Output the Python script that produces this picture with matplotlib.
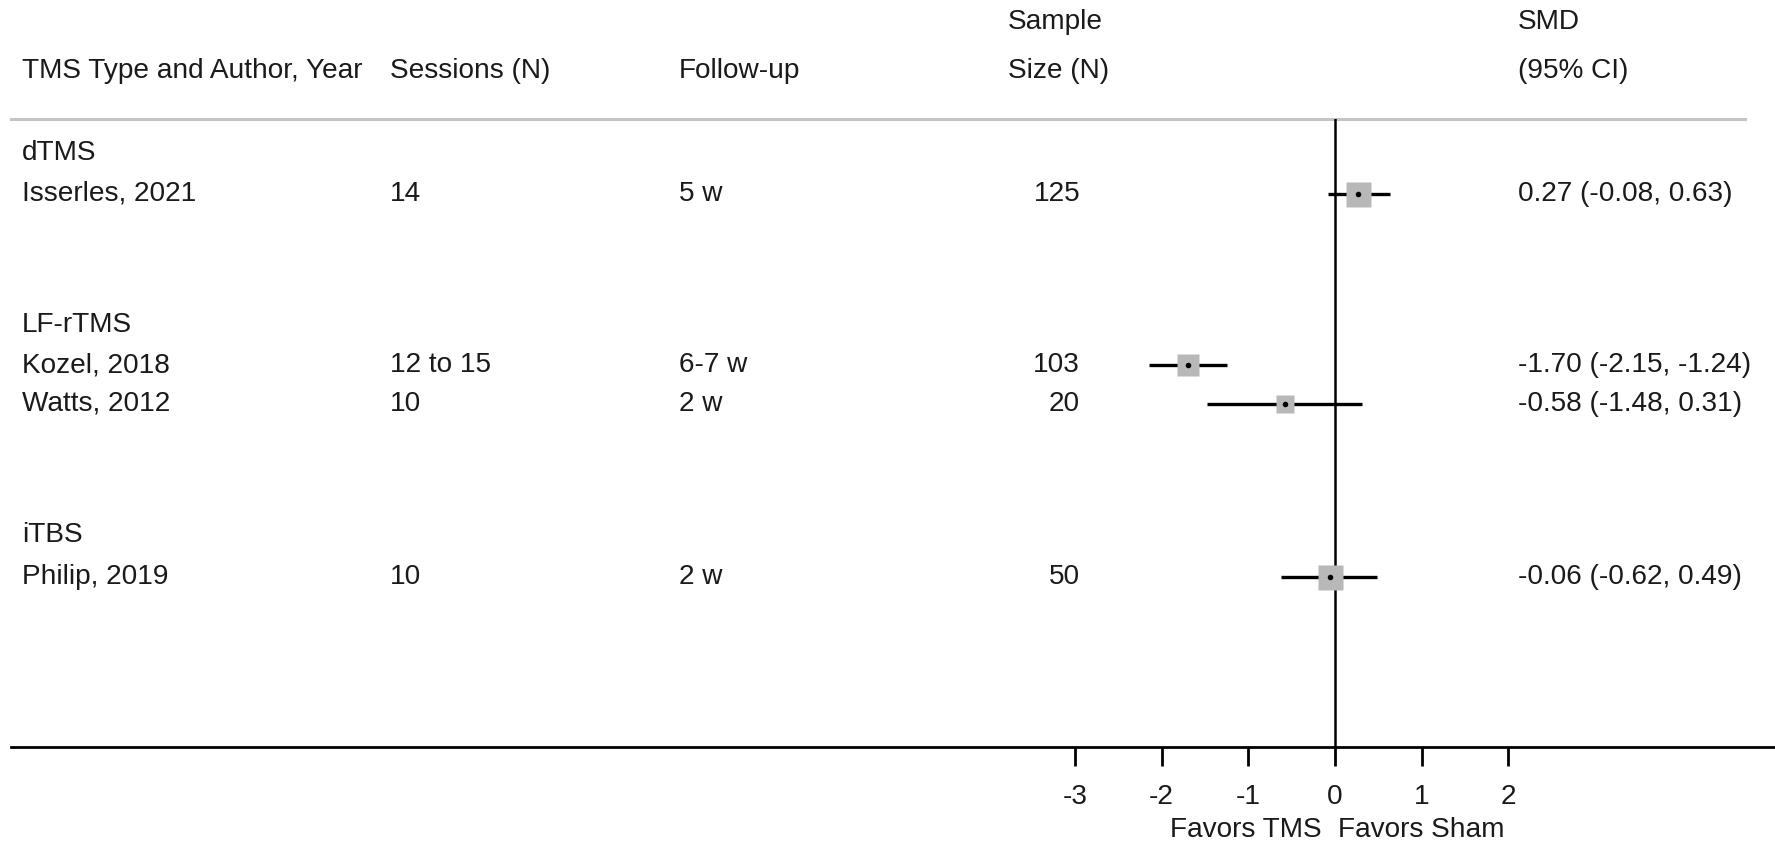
import matplotlib
matplotlib.use("Agg")
import matplotlib.pyplot as plt
import numpy as np

plt.rcParams['font.family'] = ['Liberation Sans', 'DejaVu Sans']

# ---------------- data ----------------
group_labels = ["dTMS", "LF-rTMS", "iTBS"]
study_labels = ["Isserles, 2021", "Kozel, 2018", "Watts, 2012", "Philip, 2019"]
sessions = ["14", "12 to 15", "10", "10"]
follow_up = ["5 w", "6-7 w", "2 w", "2 w"]
sample_size = [125, 103, 20, 50]
smd = [0.27, -1.70, -0.58, -0.06]
ci_low = [-0.08, -2.15, -1.48, -0.62]
ci_high = [0.63, -1.24, 0.31, 0.49]
x_ticks = [-3, -2, -1, 0, 1, 2]
favors_left = "Favors TMS"
favors_right = "Favors Sham"

# ---------------- layout (pixels from top-left) ----------------
W, H = 1775, 846
group_row_y = [153, 325, 535]
study_row_y = [194, 365, 404, 577]
hdr1_y, hdr2_y = 22, 71
col_author, col_sess, col_fu = 22, 390, 679
col_n_hdr, col_n_right, col_smd = 1008, 1080, 1518
ax_left_px, ax_right_px = 11, 1775
ax_top_px, ax_bot_px = 119, 747
zero_px, unit_px = 1335, 86.7
marker_sizes = [18, 15.5, 12.5, 18]
fs = 20.2

fig = plt.figure(figsize=(W / 100, H / 100), dpi=100)

# text overlay axes in pixel coordinates
tx = fig.add_axes([0, 0, 1, 1])
tx.set_xlim(0, W)
tx.set_ylim(H, 0)
tx.axis('off')

# forest axes
ax = fig.add_axes([ax_left_px / W, (H - ax_bot_px) / H,
                   (ax_right_px - ax_left_px) / W, (ax_bot_px - ax_top_px) / H])
ax.set_xlim((ax_left_px - zero_px) / unit_px, (ax_right_px - zero_px) / unit_px)
ax.set_ylim(ax_bot_px, ax_top_px)
ax.patch.set_alpha(0)
for s in ['top', 'left', 'right']:
    ax.spines[s].set_visible(False)
ax.spines['bottom'].set_linewidth(2.0)
ax.spines['bottom'].set_color('black')
ax.set_yticks([])
ax.set_xticks(x_ticks)
ax.set_xticklabels([str(t) for t in x_ticks], fontsize=fs, color='#1a1a1a')
ax.tick_params(axis='x', length=13.5, width=2.0, pad=13, color='black')

ax.axvline(0, color='black', lw=1.8, zorder=2)

for i in range(len(smd)):
    y = study_row_y[i]
    ax.plot([ci_low[i], ci_high[i]], [y, y], color='black', lw=2.4,
            solid_capstyle='butt', zorder=3)
    ax.plot([smd[i]], [y], marker='s', ms=marker_sizes[i], color='#b8b8b8',
            mec='none', zorder=4)
    ax.plot([smd[i]], [y], marker='o', ms=4, color='black', mec='none', zorder=5)

tc = '#1a1a1a'
ax.text((1322 - zero_px) / unit_px, 830, favors_left, ha='right', va='center',
        fontsize=fs, color=tc, transform=ax.transData, clip_on=False)
ax.text((1338 - zero_px) / unit_px, 830, favors_right, ha='left', va='center',
        fontsize=fs, color=tc, transform=ax.transData, clip_on=False)

# header
tx.plot([ax_left_px, 1745], [ax_top_px, ax_top_px], color='#c4c4c4', lw=2.2)
tx.text(col_author, hdr2_y, "TMS Type and Author, Year", fontsize=fs, va='center', color=tc)
tx.text(col_sess, hdr2_y, "Sessions (N)", fontsize=fs, va='center', color=tc)
tx.text(col_fu, hdr2_y, "Follow-up", fontsize=fs, va='center', color=tc)
tx.text(col_n_hdr, hdr1_y, "Sample", fontsize=fs, va='center', color=tc)
tx.text(col_n_hdr, hdr2_y, "Size (N)", fontsize=fs, va='center', color=tc)
tx.text(col_smd, hdr1_y, "SMD", fontsize=fs, va='center', color=tc)
tx.text(col_smd, hdr2_y, "(95% CI)", fontsize=fs, va='center', color=tc)

for g, y in zip(group_labels, group_row_y):
    tx.text(col_author, y, g, fontsize=fs, va='center', color=tc)

for i in range(len(smd)):
    y = study_row_y[i]
    tx.text(col_author, y, study_labels[i], fontsize=fs, va='center', color=tc)
    tx.text(col_sess, y, sessions[i], fontsize=fs, va='center', color=tc)
    tx.text(col_fu, y, follow_up[i], fontsize=fs, va='center', color=tc)
    tx.text(col_n_right, y, str(sample_size[i]), fontsize=fs, va='center', ha='right', color=tc)
    tx.text(col_smd, y, f"{smd[i]:.2f} ({ci_low[i]:.2f}, {ci_high[i]:.2f})",
            fontsize=fs, va='center', color=tc)

fig.savefig("out.png", dpi=100)
